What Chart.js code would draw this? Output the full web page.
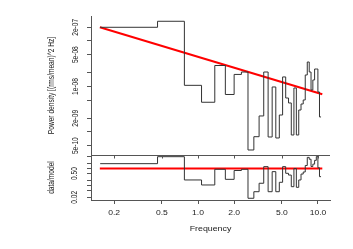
<!DOCTYPE html>
<html>
<head>
<meta charset="utf-8">
<script src="https://cdn.jsdelivr.net/npm/chart.js"></script>
<style>
  html, body { margin: 0; padding: 0; background: #fff; }
  #wrap { width: 353px; height: 249px; position: relative; }
</style>
</head>
<body>
<div id="wrap"><canvas id="psd"></canvas></div>
<script>
// bin edges of the binned spectrum (Hz)
const binEdges = [0.153, 0.46, 0.77, 1.07, 1.38, 1.69, 2.0, 2.3, 2.61, 2.92, 3.23, 3.53, 3.84, 4.15,
  4.45, 4.76, 5.07, 5.38, 5.68, 5.99, 6.3, 6.6, 6.91, 7.22, 7.53, 7.83, 8.14, 8.45, 8.75, 9.06,
  9.37, 9.68, 9.98, 10.29, 10.6];
// power density per bin
const power = [2.0e-7, 2.71e-7, 1.06e-8, 4.5e-9, 2.89e-8, 6.67e-9, 1.84e-8, 2.08e-8, 4.02e-10,
  7.88e-10, 2.25e-9, 2.08e-8, 7.76e-10, 9.75e-9, 7.38e-10, 2.36e-9, 1.62e-8, 5.58e-9, 4.34e-9,
  8.59e-10, 9.27e-9, 8.59e-10, 3.04e-9, 4.12e-9, 5.05e-9, 1.79e-8, 3.45e-8, 2.08e-8, 8.37e-9,
  1.39e-8, 2.42e-8, 2.42e-8, 7.57e-9, 2.14e-9];
// data/model per bin
const ratio = [1.92, 4.94, 0.211, 0.107, 0.90, 0.23, 0.76, 0.90, 0.0177, 0.043, 0.135, 1.28, 0.043,
  0.65, 0.043, 0.154, 1.28, 0.52, 0.41, 0.085, 1.0, 0.078, 0.211, 0.47, 0.62, 1.5, 4.5, 3.5, 1.3,
  1.8, 3.0, 5.0, 1.1, 0.33];
// power-law model (end points)
const modelFreq = [0.152, 10.86];
const modelPower = [2.0e-7, 6.73e-9];
const modelRatio = [1, 1];

// ticks
const xTicks = [0.2, 0.5, 1, 2, 5, 10];
const xTickLabels = ['0.2', '0.5', '1.0', '2.0', '5.0', '10.0'];
const yTicks = [2e-7, 1e-7, 5e-8, 2e-8, 1e-8, 5e-9, 2e-9, 1e-9, 5e-10];
const yTickLabels = ['2e-07', '', '5e-08', '', '1e-08', '', '2e-09', '', '5e-10'];
const rTicks = [0.02, 0.05, 0.1, 0.2, 0.5, 1, 2, 5];
const rTickLabels = ['0.02', '', '', '', '0.50', '', '', ''];

const axisColor = '#555';
const lineColor = '#333';
const textColor = '#222';
const stretch = 1.3;
const fontFam = '"Liberation Sans", Arial, sans-serif';

// one point per left bin edge, plus the closing edge
const steps = (vals) => {
  const pts = vals.map((v, i) => ({ x: binEdges[i], y: v }));
  pts.push({ x: binEdges[binEdges.length - 1], y: vals[vals.length - 1] });
  return pts;
};
const pairs = (xs, ys) => xs.map((x, i) => ({ x: x, y: ys[i] }));

// draws R-like text (horizontally stretched) and the panel separator
const textPlugin = {
  id: 'rtext',
  afterDraw(chart) {
    const ctx = chart.ctx;
    const xs = chart.scales.x, ya = chart.scales.y, yb = chart.scales.y2;
    const txt = (s, px, py, vertical, size) => {
      ctx.save();
      ctx.translate(px, py);
      ctx.scale(stretch, 1);
      if (vertical) ctx.rotate(-Math.PI / 2);
      ctx.font = size + 'px ' + fontFam;
      ctx.fillText(s, 0, 0);
      ctx.restore();
    };
    ctx.save();
    ctx.fillStyle = textColor;
    ctx.textAlign = 'center';
    ctx.textBaseline = 'middle';
    yTicks.forEach((v, i) => { if (yTickLabels[i]) txt(yTickLabels[i], 76, ya.getPixelForValue(v), true, 6.6); });
    rTicks.forEach((v, i) => { if (rTickLabels[i]) txt(rTickLabels[i], 75, yb.getPixelForValue(v), true, 6.6); });
    xTicks.forEach((v, i) => txt(xTickLabels[i], xs.getPixelForValue(v), 213, false, 6.6));
    const cx = (chart.chartArea.left + chart.chartArea.right) / 2;
    txt('Frequency', cx, 229, false, 6.8);
    txt('Power density [(rms/mean)^2 Hz]', 52, (ya.top + ya.bottom) / 2, true, 6.6);
    txt('data/model', 52, (yb.top + yb.bottom) / 2, true, 6.6);

    // bottom line of the top panel with its tick marks
    ctx.strokeStyle = axisColor;
    ctx.lineWidth = 1;
    const yy = Math.round(ya.bottom) + 0.5;
    ctx.beginPath();
    ctx.moveTo(chart.chartArea.left, yy);
    ctx.lineTo(chart.chartArea.right, yy);
    xTicks.forEach(v => {
      const px = Math.round(xs.getPixelForValue(v)) + 0.5;
      ctx.moveTo(px, yy);
      ctx.lineTo(px, yy + 3);
    });
    ctx.stroke();
    ctx.restore();
  }
};

const setTicks = (vals) => (scale) => { scale.ticks = vals.map(v => ({ value: v })); };

new Chart(document.getElementById('psd'), {
  type: 'line',
  data: {
    datasets: [
      { data: steps(power), yAxisID: 'y', stepped: 'before', borderColor: lineColor, borderWidth: 1, pointRadius: 0 },
      { data: pairs(modelFreq, modelPower), yAxisID: 'y', borderColor: '#ff0000', borderWidth: 2, pointRadius: 0 },
      { data: steps(ratio), yAxisID: 'y2', stepped: 'before', borderColor: lineColor, borderWidth: 1, pointRadius: 0 },
      { data: pairs(modelFreq, modelRatio), yAxisID: 'y2', borderColor: '#ff0000', borderWidth: 2, pointRadius: 0 }
    ]
  },
  options: {
    responsive: true,
    maintainAspectRatio: false,
    animation: false,
    events: [],
    layout: { padding: { left: 0, right: 23, top: 16, bottom: 0 } },
    plugins: { legend: { display: false }, tooltip: { enabled: false } },
    scales: {
      x: {
        type: 'logarithmic',
        min: 0.1283, max: 12.59,
        afterBuildTicks: setTicks(xTicks),
        afterFit: (s) => { s.height = 49; },
        border: { display: true, color: axisColor, width: 1 },
        grid: { drawOnChartArea: false, drawTicks: true, tickLength: 4, color: axisColor },
        ticks: { display: false }
      },
      y2: {
        type: 'logarithmic',
        position: 'left',
        stack: 'v',
        stackWeight: 45,
        min: 0.0140, max: 6.2,
        afterBuildTicks: setTicks(rTicks),
        afterFit: (s) => { s.width = 91; },
        border: { display: true, color: axisColor, width: 1 },
        grid: { drawOnChartArea: false, drawTicks: true, tickLength: 4, color: axisColor },
        ticks: { display: false }
      },
      y: {
        type: 'logarithmic',
        position: 'left',
        stack: 'v',
        stackWeight: 139,
        min: 3.12e-10, max: 3.54e-7,
        afterBuildTicks: setTicks(yTicks),
        afterFit: (s) => { s.width = 91; },
        border: { display: true, color: axisColor, width: 1 },
        grid: { drawOnChartArea: false, drawTicks: true, tickLength: 4, color: axisColor },
        ticks: { display: false }
      }
    }
  },
  plugins: [textPlugin]
});
</script>
</body>
</html>
